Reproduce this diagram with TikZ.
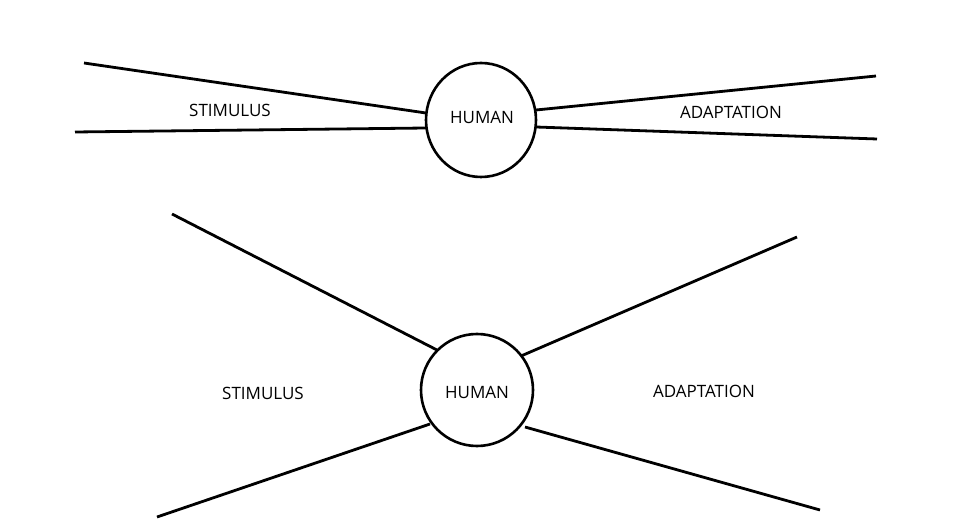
\documentclass[tikz,border=0pt]{standalone}
\usepackage{fontspec}
\usetikzlibrary{shapes.geometric}
\setmainfont{Open Sans}
\begin{document}
\begin{tikzpicture}[x=1pt,y=-1pt,
  hum/.style={circle,draw,line width=2.6pt,minimum size=112pt,inner sep=0pt},
  lbl/.style={font=\fontsize{17}{17}\selectfont},
  ln/.style={line width=2.8pt}]
\useasboundingbox (0,0) rectangle (975,521);
\node[hum,ellipse,minimum width=110pt,minimum height=114pt] (h1) at (481,120) {};
\node[lbl] at (482,117) {HUMAN};
\node[hum] (h2) at (477,390) {};
\node[lbl] at (477,392) {HUMAN};
\node[lbl] (s1) at (230,110) {STIMULUS};
\node[lbl] (a1) at (731,112) {ADAPTATION};
\node[lbl] (s2) at (263,393) {STIMULUS};
\node[lbl] (a2) at (704,391) {ADAPTATION};
\coordinate (p1) at (84,63); \coordinate (q1) at (426,113);
\coordinate (p2) at (75,132); \coordinate (q2) at (426,128);
\coordinate (p3) at (876,76); \coordinate (q3) at (536,110);
\coordinate (p4) at (877,139); \coordinate (q4) at (536,127);
\coordinate (p5) at (172,214); \coordinate (q5) at (437,350);
\coordinate (p6) at (157,517); \coordinate (q6) at (430,424);
\coordinate (p7) at (797,237); \coordinate (q7) at (521,356);
\coordinate (p8) at (820,510); \coordinate (q8) at (525,427);
\foreach \i in {1,...,8} \draw[ln] (p\i) -- (q\i);
\end{tikzpicture}
\end{document}
